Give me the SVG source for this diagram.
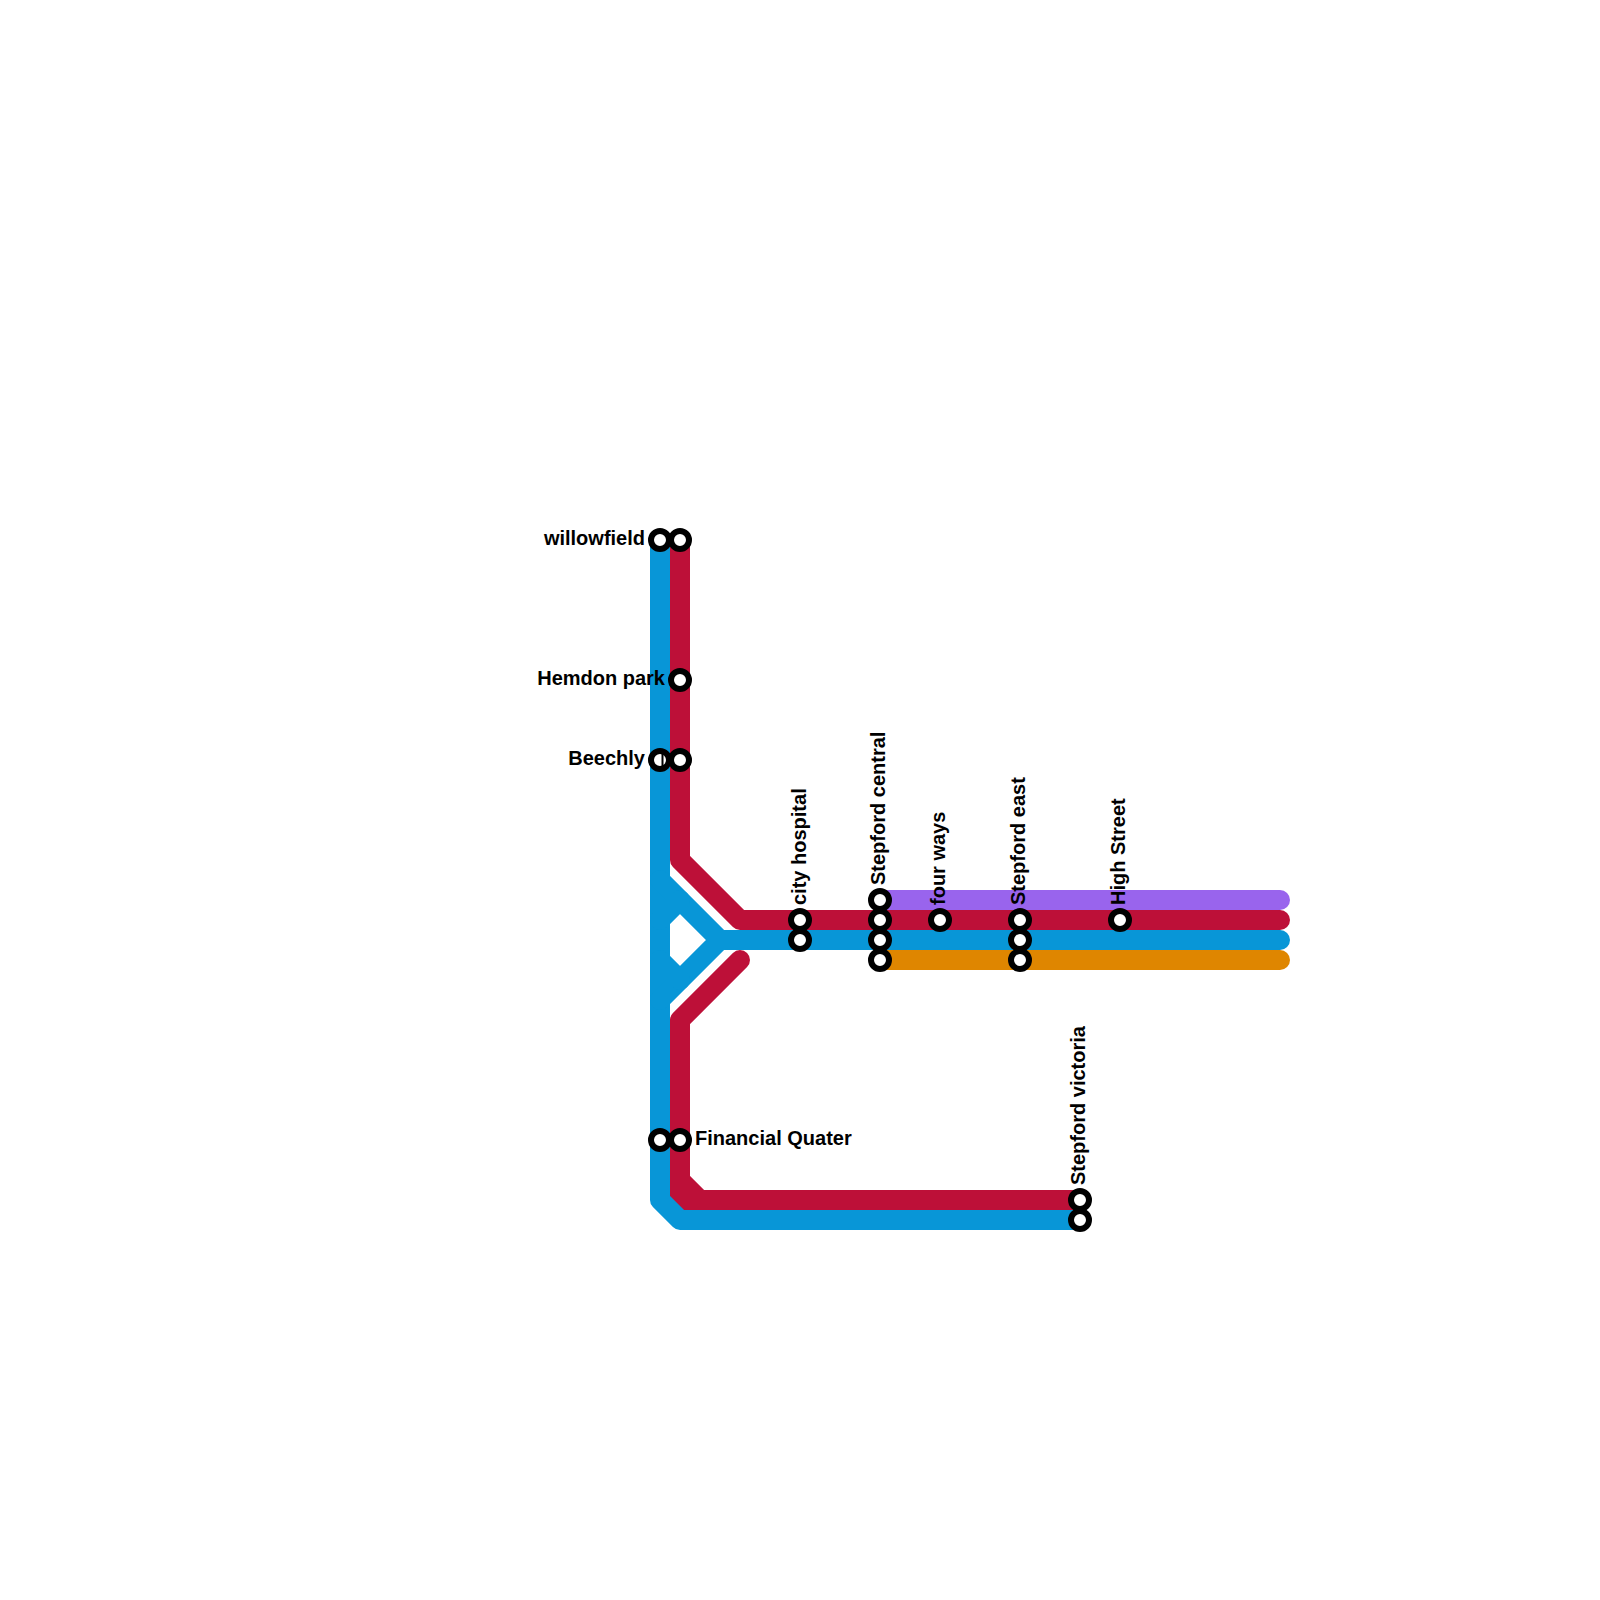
<svg xmlns="http://www.w3.org/2000/svg" width="1600" height="1600" viewBox="0 0 1600 1600">
<style>
.l{fill:none;stroke-width:20;stroke-linecap:round;stroke-linejoin:round}
.b{stroke:#0896d7}.r{stroke:#bd1038}.p{stroke:#9964ed}.o{stroke:#df8600}
.s{fill:#fff;stroke:#000;stroke-width:6}
text{font-family:"Liberation Sans",Arial,sans-serif;font-size:20px;font-weight:bold;fill:#000}
.e{text-anchor:end}
</style>
<rect width="1600" height="1600" fill="#fff"/>
<g id="connectors">
<path class="l p" d="M880 900H1280"/>
<path class="l o" d="M880 960H1280"/>
<path class="l r" d="M680 540V860L740 920H1280"/>
<path class="l r" d="M740 960L680 1020V1200H700L680 1180M700 1200H1080"/>
<path class="l b" d="M660 540V1200L680 1220H1080"/>
<path class="l b" d="M660 880L720 940L660 1000M720 940H1280"/>
<path class="l b" d="M660 920L680 900M660 960L680 980"/>
</g>
<g id="st-willowfield"><circle class="s" cx="660" cy="540" r="9"/><circle class="s" cx="680" cy="540" r="9"/><text class="e" x="645" y="545">willowfield</text></g>
<g id="st-hemdon"><circle class="s" cx="680" cy="680" r="9"/><text class="e" x="665" y="685">Hemdon park</text></g>
<g id="st-beechly"><circle class="s" cx="660" cy="760" r="9"/><circle class="s" cx="680" cy="760" r="9"/><path d="M662.5 754V766" stroke="#000" stroke-width="2" fill="none"/><text class="e" x="645" y="765">Beechly</text></g>
<g id="st-financial"><circle class="s" cx="660" cy="1140" r="9"/><circle class="s" cx="680" cy="1140" r="9"/><text x="695" y="1145">Financial Quater</text></g>
<g id="st-city"><circle class="s" cx="800" cy="920" r="9"/><circle class="s" cx="800" cy="940" r="9"/><text transform="translate(806 905) rotate(-90)">city hospital</text></g>
<g id="st-central"><circle class="s" cx="880" cy="900" r="9"/><circle class="s" cx="880" cy="920" r="9"/><circle class="s" cx="880" cy="940" r="9"/><circle class="s" cx="880" cy="960" r="9"/><text transform="translate(885 885) rotate(-90)">Stepford central</text></g>
<g id="st-four"><circle class="s" cx="940" cy="920" r="9"/><text transform="translate(945 905) rotate(-90)">four ways</text></g>
<g id="st-east"><circle class="s" cx="1020" cy="920" r="9"/><circle class="s" cx="1020" cy="940" r="9"/><circle class="s" cx="1020" cy="960" r="9"/><text transform="translate(1025 905) rotate(-90)">Stepford east</text></g>
<g id="st-high"><circle class="s" cx="1120" cy="920" r="9"/><text transform="translate(1125 905) rotate(-90)">High Street</text></g>
<g id="st-victoria"><circle class="s" cx="1080" cy="1200" r="9"/><circle class="s" cx="1080" cy="1220" r="9"/><text transform="translate(1085 1185) rotate(-90)">Stepford victoria</text></g>
</svg>
